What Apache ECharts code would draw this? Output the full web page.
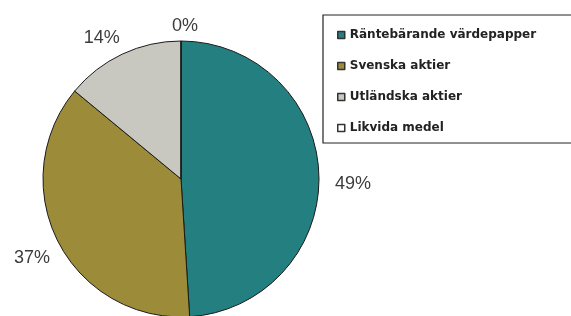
<!DOCTYPE html>
<html>
<head>
<meta charset="utf-8">
<script src="https://cdn.jsdelivr.net/npm/echarts@6/dist/echarts.min.js"></script>
<style>
  html, body { margin: 0; padding: 0; background: #fff; }
  #chart { width: 571px; height: 316px; }
</style>
</head>
<body>
<div id="chart"></div>
<script>
// portfolio split, percent
const categories = ['Räntebärande värdepapper', 'Svenska aktier', 'Utländska aktier', 'Likvida medel'];
const shares = [49, 37, 14, 0];
const colors = ['#247f80', '#9c8c3a', '#c9c8c0', '#ffffff'];
// nudge labels to where the original put them
const labelOffsets = [[3, 10], [4, 13], [6, -9], [22, -7]];

const chart = echarts.init(document.getElementById('chart'));

chart.setOption({
  animation: false,
  color: colors,
  graphic: [{
    type: 'rect',
    shape: {x: 323, y: 15, width: 260, height: 128},
    style: {fill: 'none', stroke: '#222', lineWidth: 1.2},
    z: 0
  }],
  legend: {
    orient: 'vertical',
    left: 332,
    top: 24,
    itemWidth: 7,
    itemHeight: 7,
    itemGap: 19,
    icon: 'rect',
    itemStyle: {borderColor: '#333', borderWidth: 1.5},
    textStyle: {
      fontFamily: 'DejaVu Sans',
      fontWeight: 'bold',
      fontSize: 12,
      color: '#222'
    },
    data: categories
  },
  series: [{
    type: 'pie',
    center: [181, 179],
    radius: 138,
    startAngle: 90,
    clockwise: true,
    avoidLabelOverlap: false,
    stillShowZeroSum: true,
    minShowLabelAngle: 0,
    itemStyle: {borderColor: '#1a1a1a', borderWidth: 1},
    label: {
      show: true,
      position: 'outside',
      formatter: '{c}%',
      fontFamily: 'Liberation Sans',
      fontSize: 18,
      color: '#3c3c3c'
    },
    labelLine: {show: false, length: 8, length2: 0},
    emphasis: {disabled: true},
    data: categories.map((name, i) => ({
      name: name,
      value: shares[i],
      label: {offset: labelOffsets[i]}
    }))
  }]
});
</script>
</body>
</html>
